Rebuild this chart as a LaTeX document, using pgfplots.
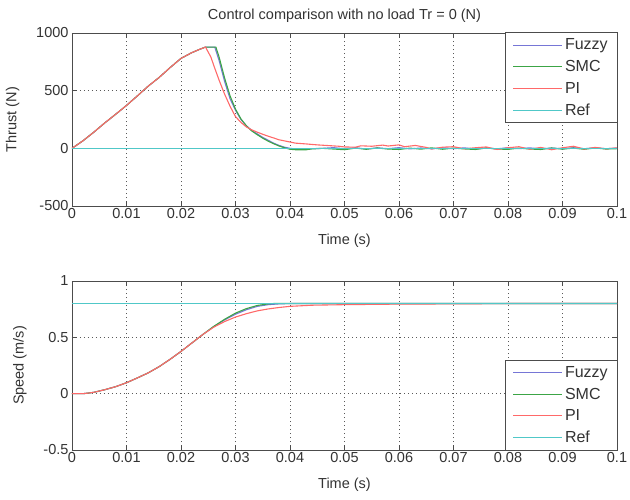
\documentclass[border=0pt]{standalone}
\usepackage{pgfplots}
\pgfplotsset{compat=1.18}
\usepackage{fontspec}
\setmainfont{Liberation Sans}
\definecolor{cfuz}{RGB}{118,118,214}
\definecolor{csmc}{RGB}{60,165,70}
\definecolor{cpi}{RGB}{255,105,105}
\definecolor{cref}{RGB}{80,200,200}
\pgfplotsset{
  mystyle/.style={
    scale only axis, width=545pt,
    xmin=0, xmax=0.1,
    xtick={0,0.01,0.02,0.03,0.04,0.05,0.06,0.07,0.08,0.09,0.1},
    xticklabels={0,0.01,0.02,0.03,0.04,0.05,0.06,0.07,0.08,0.09,0.1},
    tick align=inside, tick pos=both,
    major tick length=5pt,
    grid=major, major grid style={black!65, dash pattern=on 1pt off 3pt, line width=0.7pt},
    axis line style={black!70, line width=0.7pt},
    tick style={black!70, line width=0.7pt},
    ticklabel style={font=\fontsize{14.5}{16}\selectfont, text=black!80},
    xticklabel style={yshift=1pt},
    label style={font=\fontsize{14.5}{16}\selectfont, text=black!80},
    /pgf/number format/assume math mode=true,
    xlabel={Time (s)},
    xlabel style={yshift=-8pt},
    ylabel style={yshift=10pt},
    legend style={draw=black!70, line width=0.8pt, fill=white,
      font=\fontsize{16}{17}\selectfont, row sep=5pt,
      inner xsep=8pt, inner ysep=4pt, cells={anchor=west, text=black!80}},
    legend image code/.code={\draw[#1] (0pt,0pt) -- (49pt,0pt);},
    every axis plot/.append style={line width=1.1pt},
  }
}
\begin{document}
\begin{tikzpicture}
\useasboundingbox (-72pt,-293pt) rectangle (558pt,206pt);
\begin{axis}[mystyle, height=173pt, at={(0pt,0pt)},
  ymin=-500, ymax=1000, ytick={-500,0,500,1000},
  yticklabels={-500,0,500,1000},
  ylabel={Thrust (N)},
  title={Control comparison with no load Tr = 0 (N)},
  title style={font=\fontsize{14.5}{16}\selectfont, text=black!80, yshift=1pt},
  legend style={at={(1.002,1.003)}, anchor=north east}]
\addplot[cfuz] coordinates {(0,0)(0.002,65)(0.004,140)(0.006,220)(0.008,295)(0.010,372)(0.012,455)(0.014,540)(0.016,615)(0.018,700)(0.020,780)(0.022,830)(0.0235,860)(0.0245,878)(0.0262,878)(0.027,760)(0.028,580)(0.029,430)(0.030,330)(0.031,250)(0.032,195)(0.033,155)(0.034,125)(0.035,95)(0.036,70)(0.037,45)(0.038,25)(0.039,10)(0.040,0)(0.041,-5)(0.042,-5)(0.044,-3)(0.046,0)(0.048,6)(0.050,-4)(0.052,5)(0.054,-6)(0.056,4)(0.058,-3)(0.060,6)(0.062,-5)(0.064,3)(0.066,-4)(0.068,5)(0.070,-3)(0.072,4)(0.074,-6)(0.076,3)(0.078,-4)(0.080,5)(0.082,-3)(0.084,4)(0.086,-5)(0.088,3)(0.090,-4)(0.092,5)(0.094,-3)(0.096,4)(0.098,-3)(0.1,2)};
\addlegendentry{Fuzzy}
\addplot[csmc] coordinates {(0,0)(0.002,65)(0.004,140)(0.006,220)(0.008,295)(0.010,372)(0.012,455)(0.014,540)(0.016,615)(0.018,700)(0.020,780)(0.022,830)(0.0235,860)(0.0245,878)(0.0264,878)(0.027,790)(0.028,610)(0.029,455)(0.030,340)(0.031,255)(0.032,195)(0.033,150)(0.034,118)(0.035,88)(0.036,62)(0.037,40)(0.038,20)(0.039,5)(0.040,-8)(0.041,-12)(0.043,-12)(0.044,-5)(0.046,0)(0.048,-6)(0.050,-12)(0.052,2)(0.054,-8)(0.056,3)(0.058,-6)(0.060,-10)(0.062,2)(0.064,-7)(0.066,4)(0.068,-8)(0.070,2)(0.072,-5)(0.074,-10)(0.076,3)(0.078,-6)(0.080,-9)(0.082,2)(0.084,-6)(0.086,-10)(0.088,3)(0.090,-7)(0.092,2)(0.094,-8)(0.096,3)(0.098,-6)(0.1,-3)};
\addlegendentry{SMC}
\addplot[cpi] coordinates {(0,0)(0.002,65)(0.004,140)(0.006,220)(0.008,295)(0.010,372)(0.012,455)(0.014,540)(0.016,615)(0.018,700)(0.020,780)(0.022,830)(0.0235,860)(0.0245,878)(0.0255,790)(0.026,720)(0.027,590)(0.028,470)(0.029,365)(0.030,275)(0.031,225)(0.032,185)(0.033,160)(0.034,140)(0.035,122)(0.036,105)(0.037,90)(0.038,74)(0.040,55)(0.041,45)(0.043,38)(0.045,30)(0.047,24)(0.049,18)(0.050,12)(0.052,10)(0.053,22)(0.055,18)(0.057,28)(0.058,20)(0.060,30)(0.061,14)(0.063,25)(0.065,8)(0.066,-6)(0.068,10)(0.070,14)(0.072,-4)(0.074,5)(0.076,12)(0.078,-10)(0.080,5)(0.082,14)(0.084,-8)(0.086,8)(0.088,-12)(0.090,5)(0.092,18)(0.094,-6)(0.096,8)(0.098,-4)(0.1,4)};
\addlegendentry{PI}
\addplot[cref] coordinates {(0,0)(0.1,0)};
\addlegendentry{Ref}
\end{axis}
\begin{axis}[mystyle, height=169pt, at={(0pt,-244pt)},
  ymin=-0.5, ymax=1, ytick={-0.5,0,0.5,1},
  yticklabels={-0.5,0,0.5,1},
  ylabel={Speed (m/s)},
  legend style={at={(1.002,-0.003)}, anchor=south east}]
\addplot[cfuz] coordinates {(0,0)(0.002,0)(0.003,0.005)(0.004,0.012)(0.006,0.035)(0.008,0.062)(0.010,0.097)(0.012,0.14)(0.014,0.185)(0.016,0.24)(0.018,0.305)(0.020,0.375)(0.022,0.45)(0.024,0.525)(0.026,0.595)(0.028,0.655)(0.030,0.705)(0.032,0.745)(0.034,0.775)(0.036,0.79)(0.038,0.797)(0.040,0.8)(0.1,0.8)};
\addlegendentry{Fuzzy}
\addplot[csmc] coordinates {(0,0)(0.002,0)(0.003,0.005)(0.004,0.012)(0.006,0.035)(0.008,0.062)(0.010,0.097)(0.012,0.14)(0.014,0.185)(0.016,0.24)(0.018,0.305)(0.020,0.375)(0.022,0.45)(0.024,0.525)(0.026,0.597)(0.028,0.66)(0.030,0.715)(0.032,0.755)(0.034,0.783)(0.036,0.797)(0.037,0.8)(0.1,0.8)};
\addlegendentry{SMC}
\addplot[cpi] coordinates {(0,0)(0.002,0)(0.003,0.005)(0.004,0.012)(0.006,0.035)(0.008,0.062)(0.010,0.097)(0.012,0.14)(0.014,0.185)(0.016,0.24)(0.018,0.305)(0.020,0.375)(0.022,0.45)(0.024,0.525)(0.026,0.59)(0.028,0.64)(0.030,0.68)(0.032,0.71)(0.034,0.735)(0.036,0.752)(0.038,0.765)(0.040,0.775)(0.044,0.785)(0.050,0.79)(0.060,0.795)(0.070,0.797)(0.080,0.8)(0.1,0.8)};
\addlegendentry{PI}
\addplot[cref] coordinates {(0,0.8)(0.1,0.8)};
\addlegendentry{Ref}
\end{axis}
\end{tikzpicture}
\end{document}
